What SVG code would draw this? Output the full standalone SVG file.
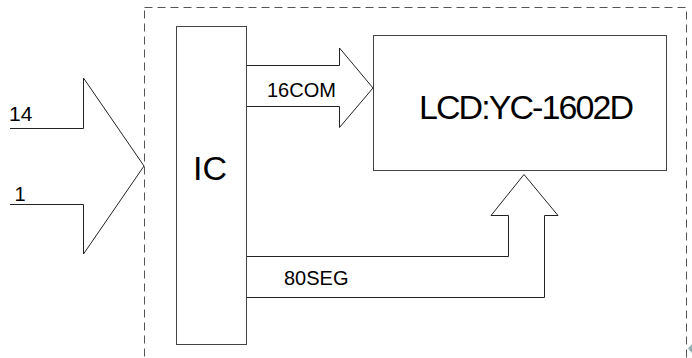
<svg xmlns="http://www.w3.org/2000/svg" width="692" height="358" viewBox="0 0 692 358">
<style>
  .ln { fill: none; stroke: #222; stroke-width: 1; }
  .box { fill: #fff; stroke: #444; stroke-width: 1; }
  .dash { fill: none; stroke: #555; stroke-width: 1; stroke-dasharray: 8 5; }
  text { font-family: "Liberation Sans", Arial, sans-serif; fill: #000; }
</style>
<rect width="692" height="358" fill="#fff"/>
<g id="frame">
  <rect class="dash" x="144.5" y="7.5" width="542" height="380"/>
</g>
<g id="connectors">
  <polyline id="input-arrow" class="ln" points="10,128.5 83.5,128.5 83.5,78 144,166 83.5,254 83.5,204.5 10,204.5"/>
  <polyline id="com-arrow" class="ln" points="247,65.5 339.5,65.5 339.5,48 373,88 339.5,127.5 339.5,106.5 247,106.5"/>
  <polyline id="seg-arrow" class="ln" points="247,256.5 508.5,256.5 508.5,215.5 491,215.5 524,174.5 558,215.5 544.5,215.5 544.5,297.5 247,297.5"/>
</g>
<g id="ic">
  <rect class="box" x="176.5" y="26.5" width="70" height="318"/>
  <text x="193" y="179.5" font-size="34">IC</text>
</g>
<g id="lcd">
  <rect class="box" x="373.5" y="35.5" width="293" height="135"/>
  <text x="419" y="118.5" font-size="34" textLength="215" lengthAdjust="spacing">LCD:YC-1602D</text>
</g>
<g id="labels">
  <text x="9" y="121" font-size="21">14</text>
  <text x="14.5" y="201" font-size="20">1</text>
  <text x="267" y="97" font-size="20">16COM</text>
  <text x="284" y="285" font-size="20">80SEG</text>
</g>
<polygon points="692,344 688,348.5 692,353" fill="#8fb0b0"/>
</svg>
